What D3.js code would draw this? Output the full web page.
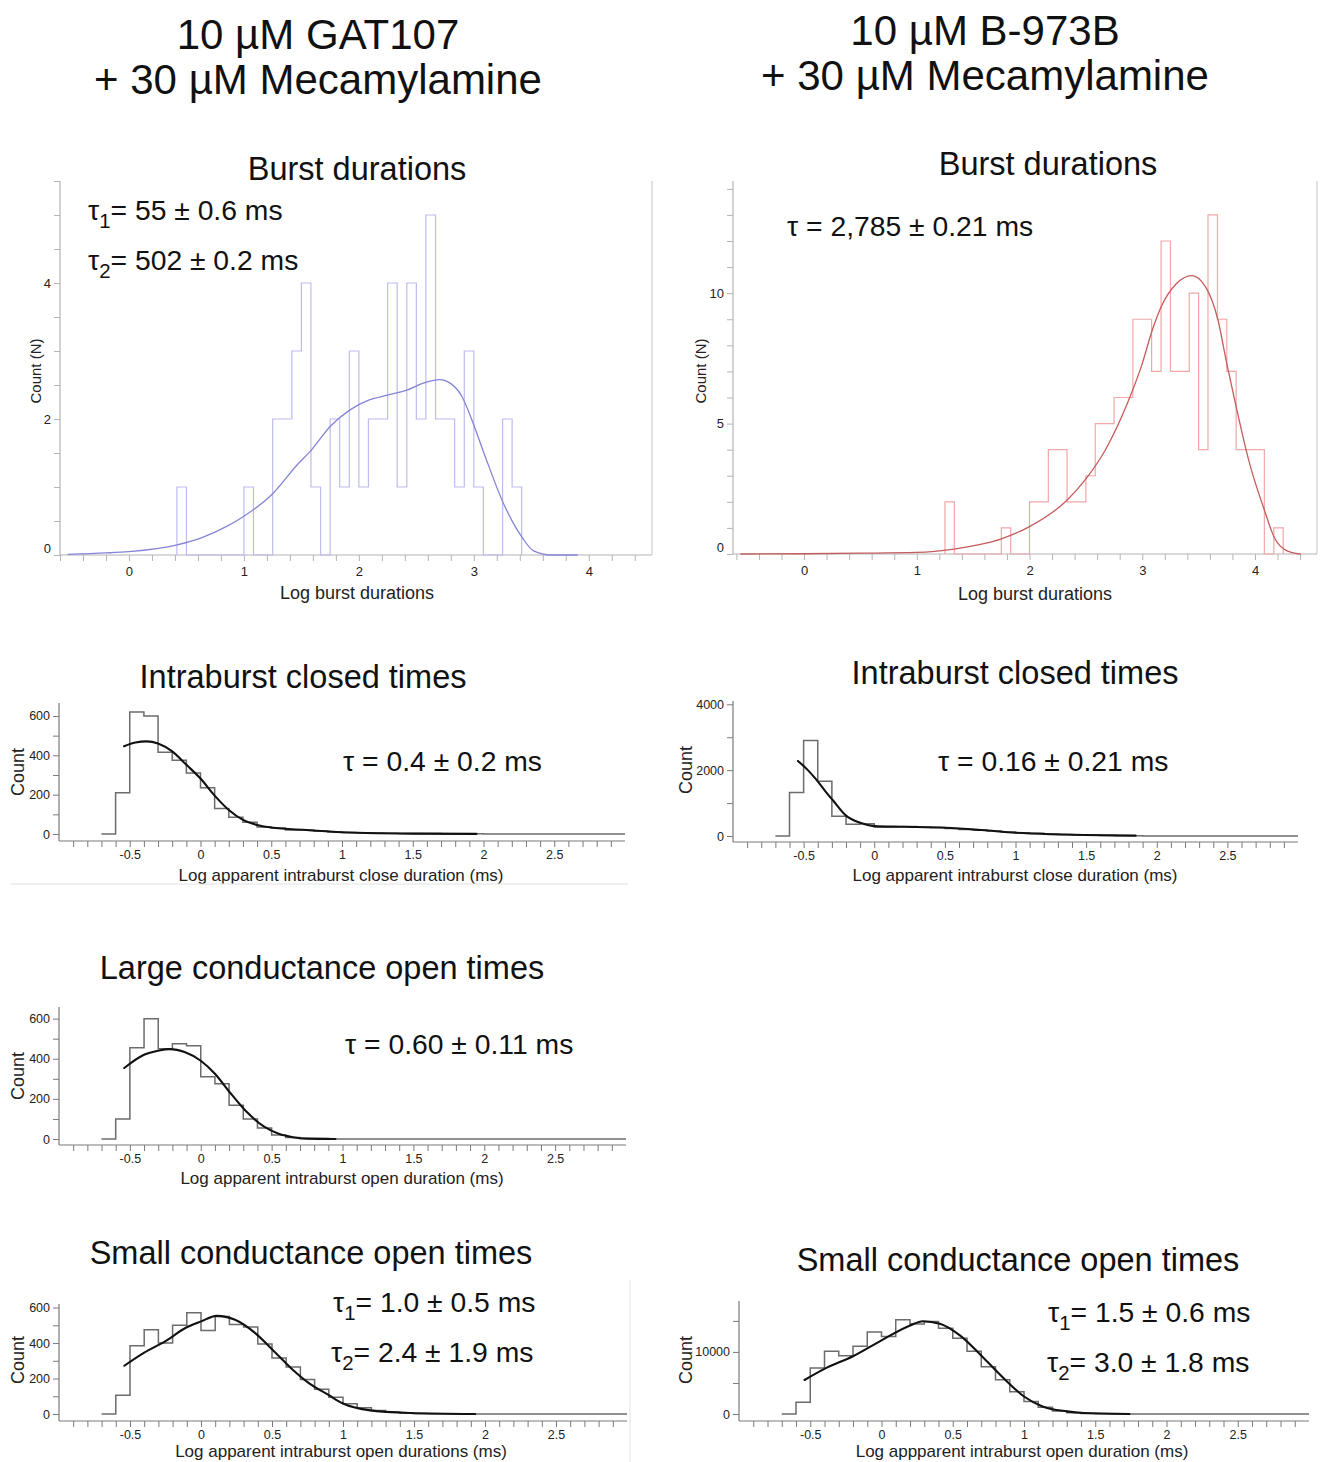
<!DOCTYPE html>
<html>
<head>
<meta charset="utf-8">
<script src="https://cdn.jsdelivr.net/npm/d3@7"></script>
<style>
  body { margin: 0; background: #fff; }
  svg { display: block; }
</style>
</head>
<body>
<svg id="fig" width="1322" height="1462"></svg>
<script>
// ---------------- data ----------------
// Burst-duration histograms: lower bin edges (log10 ms), bin width 1/12 decade
const burstBinWidth = 1 / 12;
const gatBurstEdges = [0.417, 0.5, 0.583, 0.667, 0.75, 0.833, 0.917, 1.0, 1.083, 1.167, 1.25, 1.333,
  1.417, 1.5, 1.583, 1.667, 1.75, 1.833, 1.917, 2.0, 2.083, 2.167, 2.25, 2.333,
  2.417, 2.5, 2.583, 2.667, 2.75, 2.833, 2.917, 3.0, 3.083, 3.167, 3.25, 3.333];
const gatBurstCounts = [1, 0, 0, 0, 0, 0, 0, 1, 0, 0, 2, 2,
  3, 4, 1, 0, 2, 1, 3, 1, 2, 2, 4, 1,
  4, 2, 5, 2, 2, 1, 3, 1, 0, 0, 2, 1];
const gatBurstFit = [[-0.53, 0.01], [-0.2, 0.03], [0, 0.05], [0.42, 0.15], [0.64, 0.26], [0.85, 0.42],
  [1.0, 0.57], [1.25, 0.9], [1.46, 1.32], [1.59, 1.55], [1.75, 1.89], [1.92, 2.13], [2.09, 2.28],
  [2.25, 2.35], [2.41, 2.42], [2.58, 2.54], [2.7, 2.58], [2.8, 2.52], [2.9, 2.32], [2.98, 2.0],
  [3.09, 1.49], [3.26, 0.75], [3.42, 0.26], [3.52, 0.06], [3.67, 0.0], [3.9, 0.0]];

const bBurstEdges = [1.25, 1.333, 1.417, 1.5, 1.583, 1.667, 1.75, 1.833, 1.917, 2.0, 2.083, 2.167,
  2.25, 2.333, 2.417, 2.5, 2.583, 2.667, 2.75, 2.833, 2.917, 3.0, 3.083, 3.167,
  3.25, 3.333, 3.417, 3.5, 3.583, 3.667, 3.75, 3.833, 3.917, 4.0, 4.083, 4.167];
const bBurstCounts = [2, 0, 0, 0, 0, 0, 1, 0, 0, 2, 2, 4,
  4, 2, 2, 3, 5, 5, 6, 6, 9, 9, 7, 12,
  7, 7, 10, 4, 13, 9, 7, 4, 4, 4, 0, 1];
const bBurstFit = [[-0.56, 0], [0, 0.01], [0.5, 0.03], [1.0, 0.06], [1.33, 0.19], [1.75, 0.58],
  [2.0, 1.05], [2.33, 2.05], [2.5, 2.88], [2.67, 3.97], [2.87, 5.8], [3.0, 7.3], [3.09, 8.6],
  [3.17, 9.5], [3.3, 10.35], [3.44, 10.67], [3.56, 10.25], [3.67, 9.0], [3.75, 7.3], [3.83, 5.7],
  [3.95, 3.5], [4.09, 1.6], [4.17, 0.64], [4.28, 0.13], [4.4, 0]];

// Intraburst histograms: lower bin edges (log10 ms), bin width 0.1
const logBinWidth = 0.1;
const logBinEdges = [-0.7, -0.6, -0.5, -0.4, -0.3, -0.2, -0.1, 0.0, 0.1, 0.2, 0.3, 0.4, 0.5,
  0.6, 0.7, 0.8, 0.9, 1.0, 1.1, 1.2, 1.3, 1.4, 1.5, 1.6, 1.7, 1.8, 1.9,
  2.0, 2.1, 2.2, 2.3, 2.4, 2.5, 2.6, 2.7, 2.8, 2.9];

const gatClosedCounts = [0, 210, 620, 600, 415, 375, 310, 235, 130, 85, 60, 35, 30,
  20, 20, 15, 10, 8, 6, 5, 4, 3, 2, 2, 1, 1, 1,
  0, 0, 0, 0, 0, 0, 0, 0, 0, 0];
const gatClosedFit = [[-0.54, 446], [-0.46, 465], [-0.38, 471], [-0.3, 460], [-0.2, 420], [-0.1, 352],
  [0, 282], [0.1, 195], [0.2, 122], [0.3, 72], [0.4, 46], [0.5, 33], [0.75, 20], [1.0, 9],
  [1.25, 4], [1.5, 2], [1.95, 0.5]];

const bClosedCounts = [0, 1320, 2900, 1660, 600, 360, 370, 270, 280, 290, 270, 260, 230,
  200, 180, 150, 120, 100, 80, 60, 45, 30, 20, 12, 8, 5, 0,
  0, 0, 0, 0, 0, 0, 0, 0, 0, 0];
const bClosedFit = [[-0.54, 2280], [-0.47, 2000], [-0.41, 1710], [-0.35, 1380], [-0.29, 1070],
  [-0.2, 620], [-0.1, 400], [0, 300], [0.2, 280], [0.5, 250], [0.76, 180], [1.0, 100],
  [1.25, 55], [1.49, 30], [1.85, 10]];

const gatLargeOpenCounts = [0, 100, 455, 600, 450, 475, 465, 310, 275, 168, 100, 55, 20,
  8, 3, 2, 0, 0, 0, 0, 0, 0, 0, 0, 0, 0, 0,
  0, 0, 0, 0, 0, 0, 0, 0, 0, 0];
const gatLargeOpenFit = [[-0.54, 354], [-0.4, 420], [-0.3, 440], [-0.22, 448], [-0.11, 432],
  [0, 390], [0.1, 325], [0.2, 237], [0.32, 138], [0.45, 60], [0.55, 26], [0.65, 9],
  [0.75, 2], [0.95, 0]];

const gatSmallOpenCounts = [0, 105, 385, 475, 400, 500, 570, 470, 550, 505, 490, 395, 315,
  265, 195, 140, 95, 58, 35, 20, 10, 5, 3, 2, 1, 1, 0,
  0, 0, 0, 0, 0, 0, 0, 0, 0, 0];
const gatSmallOpenFit = [[-0.54, 272], [-0.4, 346], [-0.25, 411], [-0.11, 485], [0, 522],
  [0.11, 553], [0.24, 531], [0.38, 457], [0.5, 365], [0.64, 254], [0.75, 180], [0.9, 106],
  [1.0, 59], [1.18, 22], [1.47, 6], [1.93, 0]];

const bSmallOpenCounts = [0, 1900, 7400, 10100, 9400, 10900, 13200, 12500, 15200, 14500, 14900, 13800, 12200,
  10100, 7600, 5500, 3600, 2000, 1100, 500, 200, 80, 30, 10, 0, 0, 0,
  0, 0, 0, 0, 0, 0, 0, 0, 0, 0];
const bSmallOpenFit = [[-0.54, 5480], [-0.38, 7500], [-0.2, 9300], [0, 11860], [0.2, 14255],
  [0.29, 14950], [0.41, 14520], [0.55, 12660], [0.72, 8940], [0.87, 5480], [1.0, 2820],
  [1.13, 1220], [1.3, 425], [1.42, 160], [1.74, 0]];

// tick labels
const burstXTickLabels = [0, 1, 2, 3, 4];
const logXTickLabels = [-0.5, 0, 0.5, 1, 1.5, 2, 2.5];
const gatBurstYTickLabels = [0, 2, 4];
const bBurstYTickLabels = [0, 5, 10];
const count600TickLabels = [0, 200, 400, 600];
const bClosedYTickLabels = [0, 2000, 4000];
const bSmallYTickLabels = [0, 10000];

// ---------------- drawing ----------------
const FONT = '"Liberation Sans", Arial, Helvetica, sans-serif';
const svg = d3.select('#fig').attr('font-family', FONT);
const r1 = v => Math.round(v * 1000) / 1000;

function stepPoints(edges, counts, width) {
  const pts = [];
  let prev = 0;
  edges.forEach((e, i) => {
    pts.push([e, prev]);
    pts.push([e, counts[i]]);
    prev = counts[i];
  });
  const end = edges[edges.length - 1] + width;
  pts.push([end, prev]);
  pts.push([end, 0]);
  return pts;
}

function panel(c) {
  const x = d3.scaleLinear().domain(c.xDomain).range(c.xRange);
  const y = d3.scaleLinear().domain(c.yDomain).range(c.yRange);
  const g = svg.append('g');

  if (c.frameColor) {
    g.append('line')
      .attr('x1', c.xRange[1]).attr('x2', c.xRange[1])
      .attr('y1', c.yRange[1]).attr('y2', c.xAxisY)
      .attr('stroke', c.frameColor).attr('stroke-width', 1.2);
  }

  // x axis
  const xa = d3.axisBottom(x)
    .tickValues(c.xMinor)
    .tickSize(c.tickLen)
    .tickPadding(c.xPad)
    .tickFormat(d => c.xLabels.some(v => Math.abs(v - d) < 1e-6) ? String(r1(d)) : '');
  const gx = g.append('g').attr('transform', `translate(0,${c.xAxisY})`).call(xa);
  gx.select('.domain').remove();
  gx.selectAll('line').attr('stroke', c.axisColor).attr('stroke-width', 1);
  gx.selectAll('text').attr('fill', '#222').attr('font-size', c.tickFont).attr('font-family', FONT);
  g.append('line')
    .attr('x1', c.xRange[0]).attr('x2', c.xRange[1])
    .attr('y1', c.xAxisY).attr('y2', c.xAxisY)
    .attr('stroke', c.axisColor).attr('stroke-width', 1.2);

  // y axis
  const ya = d3.axisLeft(y)
    .tickValues(c.yMinor)
    .tickSize(c.tickLen)
    .tickPadding(3)
    .tickFormat(d => c.yLabels.includes(d) ? String(d) : '');
  const gy = g.append('g').attr('transform', `translate(${c.xRange[0]},0)`).call(ya);
  gy.select('.domain').remove();
  gy.selectAll('line').attr('stroke', c.axisColor).attr('stroke-width', 1);
  gy.selectAll('text').attr('fill', '#222').attr('font-size', c.tickFont).attr('font-family', FONT)
    .attr('dy', d => (d === 0 && c.liftZero) ? '-0.2em' : '0.32em');
  g.append('line')
    .attr('x1', c.xRange[0]).attr('x2', c.xRange[0])
    .attr('y1', c.yRange[1]).attr('y2', c.xAxisY)
    .attr('stroke', c.axisColor).attr('stroke-width', 1.2);

  // histogram outline
  const line = d3.line().x(d => x(d[0])).y(d => y(d[1]));
  g.append('path')
    .attr('d', line(stepPoints(c.edges, c.counts, c.binWidth)))
    .attr('fill', 'none').attr('stroke', c.histColor).attr('stroke-width', c.histWidth)
    .attr('stroke-linejoin', 'miter');

  // fitted curve
  const fit = d3.line().x(d => x(d[0])).y(d => y(d[1])).curve(d3.curveMonotoneX);
  g.append('path')
    .attr('d', fit(c.fit))
    .attr('fill', 'none').attr('stroke', c.fitColor).attr('stroke-width', c.fitWidth)
    .attr('stroke-linecap', 'round');

  // axis titles
  g.append('text')
    .attr('x', c.xTitlePos[0]).attr('y', c.xTitlePos[1])
    .attr('text-anchor', 'middle').attr('font-size', c.xTitleFont).attr('fill', '#222')
    .text(c.xTitle);
  g.append('text')
    .attr('transform', `translate(${c.yTitlePos[0]},${c.yTitlePos[1]}) rotate(-90)`)
    .attr('text-anchor', 'middle').attr('dy', '0.35em')
    .attr('font-size', c.yTitleFont).attr('fill', '#222')
    .text(c.yTitle);

  // panel title
  g.append('text')
    .attr('x', c.titlePos[0]).attr('y', c.titlePos[1])
    .attr('text-anchor', 'middle').attr('font-size', c.titleFont).attr('fill', '#111')
    .text(c.title);

  // fitted time constants
  c.taus.forEach(t => {
    const tx = g.append('text')
      .attr('x', t.x).attr('y', t.y)
      .attr('font-size', c.tauFont).attr('fill', '#111');
    tx.append('tspan').text('τ');
    if (t.sub) {
      tx.append('tspan').attr('dy', 8).attr('font-size', c.tauFont * 0.72).text(t.sub);
      tx.append('tspan').attr('dy', -8).text('= ' + t.text);
    } else {
      tx.append('tspan').text(' = ' + t.text);
    }
  });
}

const rangeTicks = (a, b, s) => d3.range(a, b + s / 2, s).map(r1);

const topCommon = {
  tickLen: 6, xPad: 6, tickFont: 13, axisColor: '#b4b4b4', frameColor: '#cfcfcf',
  liftZero: true, binWidth: burstBinWidth, histWidth: 1.2, fitWidth: 1.3,
  xLabels: burstXTickLabels, xMinor: rangeTicks(-0.6, 4.4, 0.2),
  xTitle: 'Log burst durations', xTitleFont: 18, yTitle: 'Count (N)', yTitleFont: 15,
  title: 'Burst durations', titleFont: 32.5, tauFont: 28.3
};

const lowCommon = {
  tickLen: 6, xPad: 3, tickFont: 12.5, axisColor: '#7a7a7a', frameColor: null,
  liftZero: false, binWidth: logBinWidth, histWidth: 1.5, fitWidth: 2.1,
  histColor: '#6c6c6c', fitColor: '#111',
  xLabels: logXTickLabels, xMinor: rangeTicks(-0.9, 2.9, 0.1), edges: logBinEdges,
  xTitleFont: 17, yTitle: 'Count', yTitleFont: 18, titleFont: 32.5, tauFont: 28.3
};

// GAT107 burst durations
panel(Object.assign({}, topCommon, {
  xDomain: [-0.6, 4.55], xRange: [60, 652], yDomain: [0, 5.5], yRange: [555, 181], xAxisY: 555,
  yMinor: rangeTicks(0, 5.5, 0.5), yLabels: gatBurstYTickLabels,
  edges: gatBurstEdges, counts: gatBurstCounts, fit: gatBurstFit,
  histColor: '#bcbcf0', fitColor: '#8484d6',
  xTitlePos: [357, 599], yTitlePos: [36, 371], titlePos: [357, 180],
  taus: [{ x: 88, y: 220, sub: '1', text: '55 ± 0.6 ms' }, { x: 88, y: 270, sub: '2', text: '502 ± 0.2 ms' }]
}));

// B-973B burst durations
panel(Object.assign({}, topCommon, {
  xDomain: [-0.63, 4.55], xRange: [733, 1317], yDomain: [0, 14.3], yRange: [554, 181], xAxisY: 554,
  yMinor: rangeTicks(0, 14, 1), yLabels: bBurstYTickLabels,
  edges: bBurstEdges, counts: bBurstCounts, fit: bBurstFit,
  histColor: '#f0a8a8', fitColor: '#c45c5c',
  xTitlePos: [1035, 600], yTitlePos: [701, 371], titlePos: [1048, 175],
  taus: [{ x: 787, y: 236, text: '2,785 ± 0.21 ms' }]
}));

// GAT107 intraburst closed times
panel(Object.assign({}, lowCommon, {
  xDomain: [-1, 3], xRange: [59, 625], yDomain: [0, 666], yRange: [834, 703], xAxisY: 841,
  yMinor: rangeTicks(0, 600, 100), yLabels: count600TickLabels,
  counts: gatClosedCounts, fit: gatClosedFit,
  xTitle: 'Log apparent intraburst close duration (ms)', xTitlePos: [341, 881], yTitlePos: [18, 772],
  title: 'Intraburst closed times', titlePos: [303, 688],
  taus: [{ x: 343, y: 771, text: '0.4 ± 0.2 ms' }]
}));

// B-973B intraburst closed times
panel(Object.assign({}, lowCommon, {
  xDomain: [-1, 3], xRange: [733, 1298], yDomain: [0, 4100], yRange: [836, 701], xAxisY: 842,
  yMinor: rangeTicks(0, 4000, 1000), yLabels: bClosedYTickLabels,
  counts: bClosedCounts, fit: bClosedFit,
  xTitle: 'Log apparent intraburst close duration (ms)', xTitlePos: [1015, 881], yTitlePos: [686, 770],
  title: 'Intraburst closed times', titlePos: [1015, 684],
  taus: [{ x: 938, y: 771, text: '0.16 ± 0.21 ms' }]
}));

// GAT107 large conductance open times
panel(Object.assign({}, lowCommon, {
  xDomain: [-1, 3], xRange: [59, 626], yDomain: [0, 658], yRange: [1139, 1007], xAxisY: 1145,
  yMinor: rangeTicks(0, 600, 100), yLabels: count600TickLabels,
  counts: gatLargeOpenCounts, fit: gatLargeOpenFit,
  xTitle: 'Log apparent intraburst open duration (ms)', xTitlePos: [342, 1184], yTitlePos: [18, 1076],
  title: 'Large conductance open times', titlePos: [322, 979],
  taus: [{ x: 345, y: 1054, text: '0.60 ± 0.11 ms' }]
}));

// GAT107 small conductance open times
panel(Object.assign({}, lowCommon, {
  xDomain: [-1, 3], xRange: [59, 627], yDomain: [0, 620], yRange: [1414, 1304], xAxisY: 1421,
  yMinor: rangeTicks(0, 600, 100), yLabels: count600TickLabels,
  counts: gatSmallOpenCounts, fit: gatSmallOpenFit,
  xTitle: 'Log apparent intraburst open durations (ms)', xTitlePos: [341, 1457], yTitlePos: [18, 1360],
  title: 'Small conductance open times', titlePos: [311, 1264],
  taus: [{ x: 333, y: 1312, sub: '1', text: '1.0 ± 0.5 ms' }, { x: 331, y: 1362, sub: '2', text: '2.4 ± 1.9 ms' }]
}));

// B-973B small conductance open times
panel(Object.assign({}, lowCommon, {
  xDomain: [-1, 3], xRange: [739, 1309], yDomain: [0, 18200], yRange: [1414, 1301], xAxisY: 1421,
  yMinor: rangeTicks(0, 15000, 5000), yLabels: bSmallYTickLabels,
  counts: bSmallOpenCounts, fit: bSmallOpenFit,
  xTitle: 'Log appparent intraburst open duration (ms)', xTitlePos: [1022, 1457], yTitlePos: [686, 1360],
  title: 'Small conductance open times', titlePos: [1018, 1271],
  taus: [{ x: 1048, y: 1322, sub: '1', text: '1.5 ± 0.6 ms' }, { x: 1047, y: 1372, sub: '2', text: '3.0 ± 1.8 ms' }]
}));

// faint panel borders between stacked plots
svg.append('line').attr('x1', 10).attr('x2', 628).attr('y1', 884).attr('y2', 884)
  .attr('stroke', '#e2e2e2').attr('stroke-width', 1.2);
svg.append('line').attr('x1', 630).attr('x2', 630).attr('y1', 1280).attr('y2', 1462)
  .attr('stroke', '#e8e8e8').attr('stroke-width', 1.2);

// condition headings
const headings = [
  { x: 318, lines: ['10 µM GAT107', '+ 30 µM Mecamylamine'], y: [49, 94] },
  { x: 985, lines: ['10 µM B-973B', '+ 30 µM Mecamylamine'], y: [45, 90] }
];
headings.forEach(h => {
  h.lines.forEach((t, i) => {
    svg.append('text').attr('x', h.x).attr('y', h.y[i])
      .attr('text-anchor', 'middle').attr('font-size', 42).attr('fill', '#111').text(t);
  });
});
</script>
</body>
</html>
